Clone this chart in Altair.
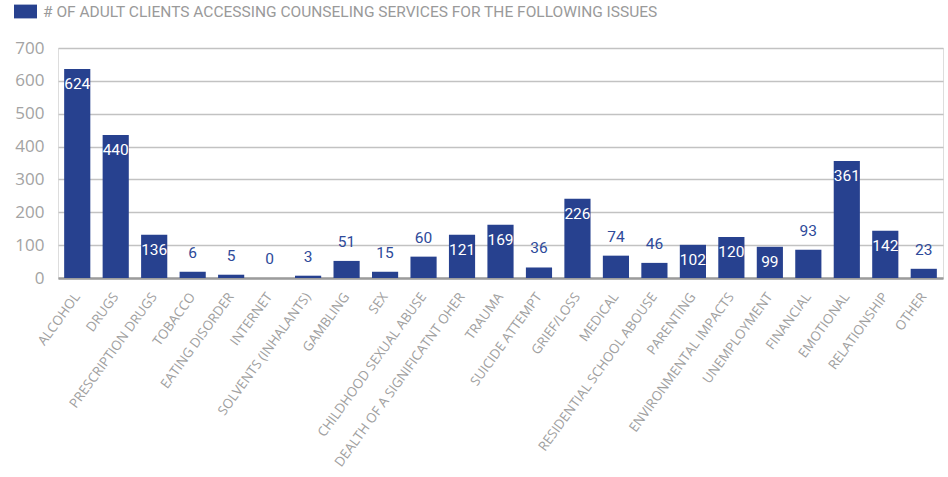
import altair as alt
import pandas as pd

categories = [
    "ALCOHOL", "DRUGS", "PRESCRIPTION DRUGS", "TOBACCO", "EATING DISORDER",
    "INTERNET", "SOLVENTS (INHALANTS)", "GAMBLING", "SEX",
    "CHILDHOOD SEXUAL ABUSE", "DEALTH OF A SIGNIFICATNT OHER", "TRAUMA",
    "SUICIDE ATTEMPT", "GRIEF/LOSS", "MEDICAL", "RESIDENTIAL SCHOOL ABOUSE",
    "PARENTING", "ENVIRONMENTAL IMPACTS", "UNEMPLOYMENT", "FINANCIAL",
    "EMOTIONAL", "RELATIONSHIP", "OTHER",
]
# bar heights as drawn in the picture
bar_heights = [636, 435, 132, 19, 10, 0, 7, 52, 19, 65, 132, 162, 32, 241,
               68, 46, 101, 125, 95, 86, 356, 144, 28]
# numbers printed on the bars
printed_values = [624, 440, 136, 6, 5, 0, 3, 51, 15, 60, 121, 169, 36, 226,
                  74, 46, 102, 120, 99, 93, 361, 142, 23]
series_name = "# OF ADULT CLIENTS ACCESSING COUNSELING SERVICES FOR THE FOLLOWING ISSUES"
y_ticks = [0, 100, 200, 300, 400, 500, 600, 700]

df = pd.DataFrame({
    "category": categories,
    "bar": bar_heights,
    "label": printed_values,
    "series": [series_name] * len(categories),
})

BLUE = "#27418F"
NUM_FONT = "Roboto"

x_enc = alt.X(
    "category:N", sort=categories, title=None,
    scale=alt.Scale(paddingInner=0.32, paddingOuter=0.16),
    axis=alt.Axis(labelAngle=-54, labelAlign="right", labelBaseline="middle",
                  labelPadding=16, labelFont="Open Sans", labelFontSize=13.3,
                  labelColor="#a0a0a0", ticks=False, domainColor="#9c9c9c",
                  domainWidth=2.5, grid=False, labelLimit=400,
                  labelOverlap=False),
)
y_enc = alt.Y(
    "bar:Q", title=None,
    scale=alt.Scale(domain=[0, 700], nice=False),
    axis=alt.Axis(values=y_ticks, labelFont="Open Sans", labelFontSize=17,
                  labelColor="#a3a3a3", labelPadding=14, ticks=False,
                  domain=False, gridColor="#c2c2c2", gridWidth=1.5,
                  labelOverlap=False),
)

base = alt.Chart(df)

bars = base.mark_bar(color=BLUE).encode(
    x=x_enc, y=y_enc,
    color=alt.Color(
        "series:N",
        scale=alt.Scale(range=[BLUE]),
        legend=alt.Legend(
            orient="none", legendX=-44, legendY=-48, title=None,
            symbolType="M-1,-0.6L1,-0.6L1,0.6L-1,0.6Z", symbolSize=529,
            symbolStrokeWidth=0, symbolOpacity=1,
            labelFont=NUM_FONT, labelFontSize=15.5, labelColor="#9a9a9a",
            labelLimit=1000, labelOffset=6,
        ),
    ),
)

inside = base.transform_filter("datum.bar >= 90").mark_text(
    color="white", font=NUM_FONT, fontSize=15.5, baseline="middle", dy=15
).encode(x=x_enc, y=y_enc, text="label:Q")

outside = base.transform_filter("datum.bar < 90").mark_text(
    color="#2E4A9A", font=NUM_FONT, fontSize=15.5, baseline="middle", dy=-19
).encode(x=x_enc, y=y_enc, text="label:Q")

chart = alt.layer(bars, inside, outside).properties(
    width=885, height=230,
    autosize=alt.AutoSizeParams(type="none"),
    padding={"left": 58, "top": 48, "right": 5, "bottom": 199},
).configure_view(stroke=None).configure(background="white")

chart.save("out.html", embed_options={"renderer": "svg", "actions": False})
